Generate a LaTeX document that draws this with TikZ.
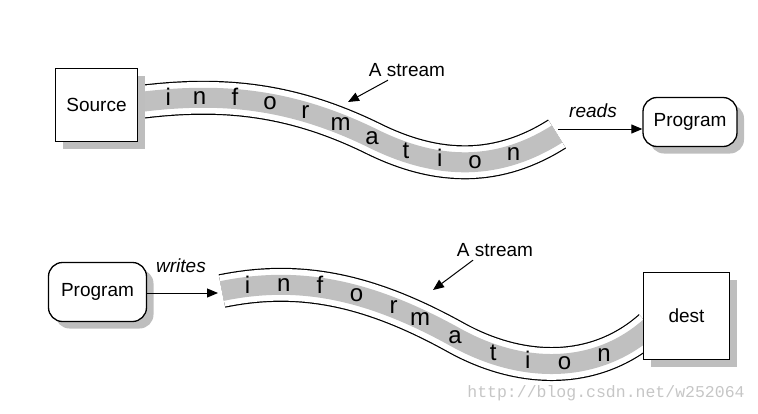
\documentclass[tikz,border=0pt]{standalone}
\usepackage{fontspec}
\setmainfont{Liberation Sans}
\newfontfamily\markfont{Liberation Mono}
\usetikzlibrary{arrows.meta,shadows,backgrounds}
\definecolor{bandgray}{RGB}{192,192,192}
\definecolor{shadegray}{RGB}{190,190,190}

\begin{document}
\begin{tikzpicture}[x=1pt, y=-1pt, font=\fontsize{19}{23}\selectfont,
    box/.style={draw, line width=1.3pt, fill=white, inner sep=0pt,
      drop shadow={shadow xshift=7pt, shadow yshift=-7pt, fill=shadegray, opacity=1}},
    prog/.style={box, rounded corners=14pt},
    band/.style={preaction={draw=black, line width=34pt},
      preaction={draw=white, line width=31.6pt}, draw=bandgray, line width=20pt},
    letter/.style={font=\fontsize{24}{26}\selectfont, text height=12.5pt, text depth=0pt, inner sep=0pt},
    arr/.style={line width=1pt, -{Triangle[length=11pt, width=9pt]}}]

    \useasboundingbox (0,0) rectangle (758,413);

    % reading
    \node[box, minimum width=82pt, minimum height=73pt] (src) at (96.5,105) {Source};
    \node[prog, minimum width=94pt, minimum height=49pt] (prg1) at (690,122) {Program};
    \node (sa1) at (407,70) {A stream};
    \coordinate (sa1tip) at (348,102);
    \draw[arr] ([xshift=-19pt]sa1.south) -- (sa1tip);
    \node (rd) at (593,111) {\itshape reads};
    \coordinate (rdst) at (558,129);
    \draw[arr] (rdst) -- (rdst -| prg1.west);

    % writing
    \node[prog, minimum width=98pt, minimum height=59pt] (prg2) at (97.5,292) {Program};
    \node[box, minimum width=86pt, minimum height=87pt] (dst) at (686.5,316) {dest};
    \node (wr) at (181,266) {\itshape writes};
    \coordinate (wrend) at (218,293);
    \draw[arr] (prg2.east |- wrend) -- (wrend);
    \node (sa2) at (495,250) {A stream};
    \coordinate (sa2tip) at (433,290);
    \draw[arr] ([xshift=-22pt]sa2.south) -- (sa2tip);

    \node[text=gray!45, font=\markfont\fontsize{16.5}{18}\selectfont] (wm) at (606,393) {http://blog.csdn.net/w252064};

    \begin{pgfonlayer}{background}
    \path[band] (140,102) .. controls (220,92) and (290,98) .. (372,138)
        node[letter, pos=.12] (t1) {i} node[letter, pos=.255] (t2) {n}
        node[letter, pos=.41] (t3) {f} node[letter, pos=.565] (t4) {o}
        node[letter, pos=.72] (t5) {r} node[letter, pos=.87] (t6) {m}
        node[letter, pos=1] (t7) {a}
      .. controls (440,172) and (500,170) .. (557,134)
        node[letter, pos=.17] (t8) {t} node[letter, pos=.345] (t9) {i}
        node[letter, pos=.535] (t10) {o} node[letter, pos=.75] (t11) {n};

    \path[band] (222,291) .. controls (300,275) and (370,290) .. (455,337)
        node[letter, pos=.11] (b1) {i} node[letter, pos=.27] (b2) {n}
        node[letter, pos=.43] (b3) {f} node[letter, pos=.59] (b4) {o}
        node[letter, pos=.75] (b5) {r} node[letter, pos=.86] (b6) {m}
        node[letter, pos=1] (b7) {a}
      .. controls (523,375) and (597,374) .. (650,327)
        node[letter, pos=.185] (b8) {t} node[letter, pos=.352] (b9) {i}
        node[letter, pos=.532] (b10) {o} node[letter, pos=.735] (b11) {n};
    \end{pgfonlayer}

\end{tikzpicture}
\end{document}
